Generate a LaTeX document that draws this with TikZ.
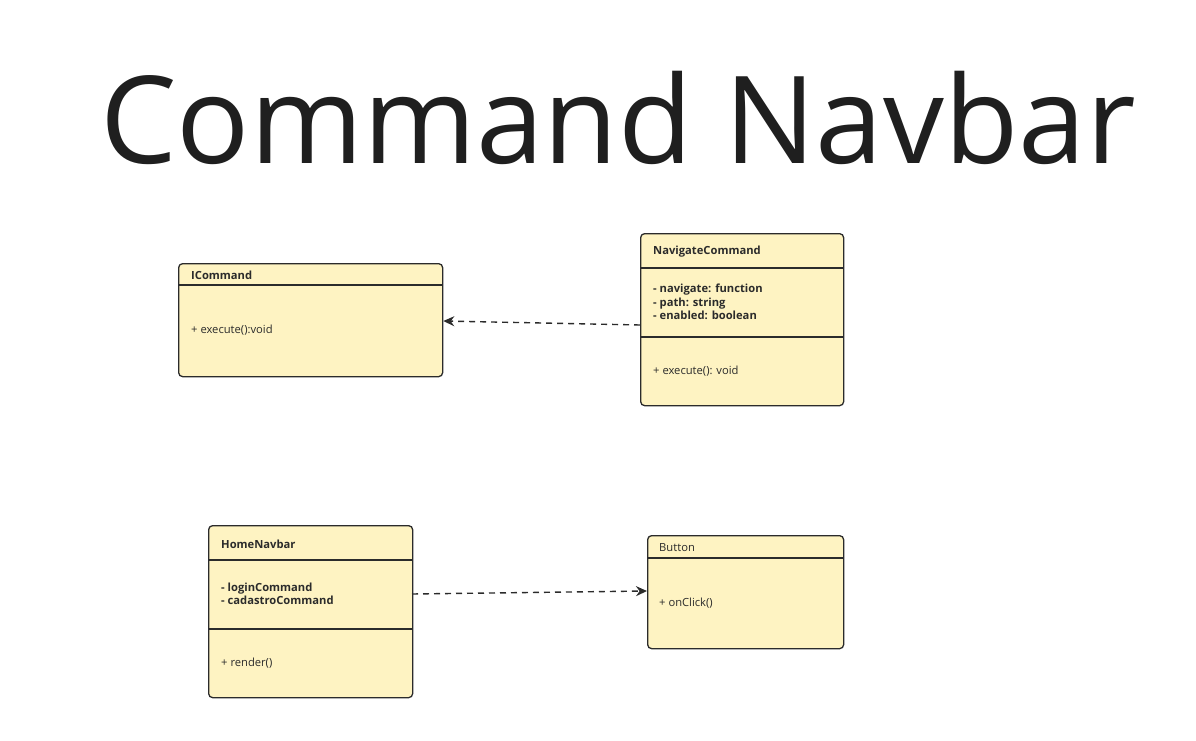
\documentclass[tikz,border=0pt]{standalone}
\usepackage{fontspec}
\setmainfont{Open Sans}
\usetikzlibrary{arrows.meta,calc}
\definecolor{boxfill}{HTML}{FEF3C2}
\definecolor{ink}{HTML}{2B2B2B}
\tikzset{
  umlbox/.style={draw=ink, fill=boxfill, line width=1.3pt, rounded corners=4pt, anchor=north west, inner sep=0pt},
  divider/.style={draw=ink, line width=1.1pt},
  title/.style={anchor=west, inner sep=0pt, font=\fontsize{11.2}{13}\selectfont\bfseries, text=ink},
  member/.style={anchor=west, inner sep=0pt, font=\fontsize{11.2}{13}\selectfont, text=ink},
  attr/.style={anchor=west, inner sep=0pt, font=\fontsize{11.2}{13.5}\selectfont\bfseries, text=ink, align=left},
  rel/.style={draw=ink, line width=1.4pt, dash pattern=on 6pt off 5pt, -{Stealth[length=11pt,width=10pt]}}
}
\begin{document}
\begin{tikzpicture}[x=1pt,y=-1pt]
\useasboundingbox (0,0) rectangle (1196,741);
\node[anchor=base, inner sep=0pt, font=\fontsize{121.5}{130}\selectfont, text=black!88] (heading) at (618,164) {Command Navbar};
% ICommand
\node[umlbox, minimum width=264pt, minimum height=113pt] (icmd) at (178,263) {};
\draw[divider] ($(icmd.north west)+(0,22)$) -- ($(icmd.north east)+(0,22)$);
\node[title] (icmdT) at (191,275) {ICommand};
\node[member] (icmdM) at (191,330) {+ execute():void};
% NavigateCommand
\node[umlbox, minimum width=203pt, minimum height=172pt] (nav) at (640,233) {};
\draw[divider] ($(nav.north west)+(0,35)$) -- ($(nav.north east)+(0,35)$);
\draw[divider] ($(nav.north west)+(0,104)$) -- ($(nav.north east)+(0,104)$);
\node[title] (navT) at (653,252) {NavigateCommand};
\node[attr] (navA) at (653,302) {- navigate: function\\- path: string\\- enabled: boolean};
\node[member] (navM) at (653,371) {+ execute(): void};
% HomeNavbar
\node[umlbox, minimum width=204pt, minimum height=172pt] (home) at (208,525) {};
\draw[divider] ($(home.north west)+(0,35)$) -- ($(home.north east)+(0,35)$);
\draw[divider] ($(home.north west)+(0,104)$) -- ($(home.north east)+(0,104)$);
\node[title] (homeT) at (221,544) {HomeNavbar};
\node[attr] (homeA) at (221,594) {- loginCommand\\- cadastroCommand};
\node[member] (homeM) at (221,663) {+ render()};
% Button
\node[umlbox, minimum width=196pt, minimum height=113pt] (btn) at (647,535) {};
\draw[divider] ($(btn.north west)+(0,23)$) -- ($(btn.north east)+(0,23)$);
\node[member] (btnT) at (659,548) {Button};
\node[member] (btnM) at (659,603) {+ onClick()};
% relations
\draw[rel] ($(nav.north west)+(0,92)$) -- ($(icmd.north east)+(0,58)$);
\draw[rel] ($(home.north west)+(204,69)$) -- ($(btn.north west)+(0,56)$);
\end{tikzpicture}
\end{document}
